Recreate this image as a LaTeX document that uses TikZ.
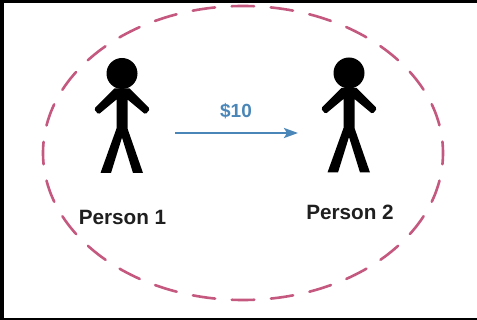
\documentclass[tikz,border=0pt]{standalone}
\usepackage{fontspec}
\setmainfont{Liberation Sans}
\usetikzlibrary{arrows.meta}
\definecolor{ringc}{HTML}{C4587F}
\definecolor{payc}{HTML}{4A86B8}
\tikzset{
  x=1pt,y=-1pt,
  ring/.style={draw=ringc,line width=2.6pt,dash pattern=on 22.5pt off 16.66pt,dash phase=11.25pt,line cap=round},
  label/.style={font=\fontsize{20.7}{24}\selectfont\bfseries,text=black!88,inner sep=0pt},
  paylabel/.style={font=\fontsize{19}{23}\selectfont\bfseries,text=payc,inner sep=0pt},
  pay/.style={draw=payc,line width=2.4pt,-{Stealth[length=14pt,width=10pt,inset=3pt]}},
  person/.pic={
    \fill (0,0) circle[radius=15.5];
    \fill (-7.5,15) -- (7.5,15) [rounded corners=1.5pt] -- (28,35.5) -- (23.5,41) [sharp corners] -- (5.5,26) -- (5.5,55)
      -- (21,99.5) -- (11,99.5) -- (0,64) -- (-11,99.5) -- (-21.5,99.5) -- (-5.5,55) -- (-5.5,26)
      [rounded corners=1.5pt] -- (-23.5,41) -- (-28,35.5) [sharp corners] -- cycle;
  }
}
\begin{document}
\begin{tikzpicture}
\useasboundingbox (0,0) rectangle (477,320);
\fill[black] (0,0) rectangle (477,320);
\fill[white] (4,3) rectangle (477,318);
\draw[ring] (243,153) ellipse[x radius=200,y radius=147];
\pic at (122,73.5) {person};
\pic at (349,73) {person};
\coordinate (payfrom) at (175,133);
\coordinate (payto) at (298,133);
\draw[pay] (payfrom) -- (payto);
\node[paylabel] (amount) at (236,111) {\$10};
\node[label] (p1) at (122.5,217) {Person 1};
\node[label] (p2) at (350,212) {Person 2};
\end{tikzpicture}
\end{document}
